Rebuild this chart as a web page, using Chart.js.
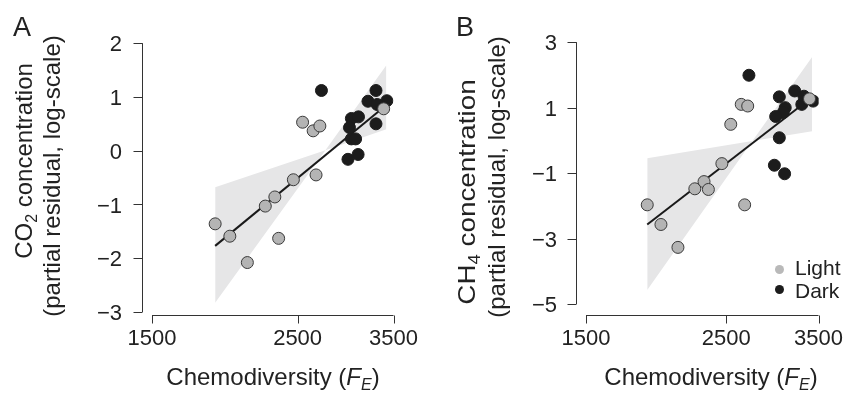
<!DOCTYPE html>
<html>
<head>
<meta charset="utf-8">
<script src="https://cdn.jsdelivr.net/npm/chart.js@4/dist/chart.umd.min.js"></script>
<style>
  body{ margin:0; background:#fff; }
  #wrap{ position:relative; width:865px; height:393px; overflow:hidden;
         font-family:"Liberation Sans", Arial, sans-serif; color:#222; }
  canvas{ position:absolute; top:0; }
  .t{ position:absolute; white-space:nowrap; font-size:24px; line-height:26px; }
  .rot{ transform:translate(-50%,-50%) rotate(-90deg); }
  .rotw{ transform:translate(-50%,-50%) rotate(-90deg) scaleX(1.16); }
  .xt{ transform:translateX(-50%); }
  .sub{ font-size:16px; position:relative; top:5px; }
  .letter{ position:absolute; font-size:27px; line-height:27px; }
  .dot{ position:absolute; width:9px; height:9px; border-radius:50%; }
  .leg{ position:absolute; font-size:21px; line-height:21px; }
</style>
</head>
<body>
<div id="wrap">
  <canvas id="chartA" width="432" height="393" style="left:0"></canvas>
  <canvas id="chartB" width="433" height="393" style="left:432px"></canvas>

  <div class="letter" style="left:13px;top:14px">A</div>
  <div class="letter" style="left:456px;top:14px">B</div>

  <div class="t rot" style="left:25px;top:161px">CO<span class="sub">2</span> concentration</div>
  <div class="t rot" style="left:52px;top:176px">(partial residual, log-scale)</div>
  <div class="t rotw" style="left:468px;top:192px">CH<span class="sub">4</span> concentration</div>
  <div class="t rot" style="left:497px;top:177px">(partial residual, log-scale)</div>

  <div class="t xt" style="left:273px;top:364px">Chemodiversity (<i>F<span class="sub">E</span></i>)</div>
  <div class="t xt" style="left:711px;top:364px">Chemodiversity (<i>F<span class="sub">E</span></i>)</div>

  <div class="dot" style="left:775px;top:265px;background:#b9b9b9"></div>
  <div class="leg" style="left:795px;top:257px">Light</div>
  <div class="dot" style="left:775px;top:285px;background:#1c1c1c"></div>
  <div class="leg" style="left:795px;top:280px">Dark</div>
</div>

<script>
// x 轴刻度（对数坐标）
const xTicks = [1500, 2500, 3500];

// A: CO2
const yTicksA = [2, 1, 0, -1, -2, -3];
const lightAX = [1872, 1971, 2096, 2232, 2308, 2339, 2463, 2544, 2640, 2703, 2667, 3381];
const lightAY = [-1.36, -1.59, -2.08, -1.03, -0.86, -1.63, -0.54, 0.53, 0.37, 0.46, -0.45, 0.78];
const darkAX = [2718, 3291, 3200, 3419, 3305, 3019, 3095, 2999, 3291, 3019, 3064, 2983, 3091];
const darkAY = [1.12, 1.12, 0.92, 0.93, 0.86, 0.60, 0.63, 0.43, 0.50, 0.22, 0.22, -0.16, -0.07];
const fitAX = [1872, 3381];
const fitAY = [-1.77, 0.81];
const bandAX = [1872, 2756, 3413];
const bandAHi = [-0.68, 0.01, 1.59];
const bandALo = [-2.83, 0.01, 0.40];

// B: CH4
const yTicksB = [3, 1, -1, -3, -5];
const lightBX = [1875, 1971, 2097, 2230, 2306, 2343, 2461, 2542, 2641, 2704, 2674, 3387];
const lightBY = [-1.97, -2.57, -3.27, -1.48, -1.26, -1.50, -0.71, 0.49, 1.10, 1.05, -1.97, 1.27];
const darkBX = [2716, 3209, 3034, 3319, 3432, 3293, 3100, 3078, 2994, 3034, 2980, 3093];
const darkBY = [1.99, 1.51, 1.33, 1.35, 1.20, 1.10, 1.00, 0.85, 0.73, 0.08, -0.76, -1.02];
const fitBX = [1875, 3380];
const fitBY = [-2.57, 1.25];
const bandBX = [1875, 2750, 3419];
const bandBHi = [-0.55, -0.02, 2.55];
const bandBLo = [-4.57, -0.02, 0.28];

function pts(xs, ys){
    return xs.map((x, i) => ({x: x, y: ys[i]}));
}

function fmt(v){
    return v < 0 ? "\u2212" + Math.abs(v) : String(v);
}

// R 风格的分离坐标轴：轴线与绘图区留一点空隙
const detachedAxes = {
    id: "detachedAxes",
    afterDraw(chart, args, opts){
        const ctx = chart.ctx;
        const area = chart.chartArea;
        const xs = chart.scales.x;
        const ys = chart.scales.y;

        ctx.save();
        ctx.strokeStyle = "#333";
        ctx.lineWidth = 1;
        ctx.beginPath();

        const ax = Math.round(area.left - opts.yGap) + 0.5;
        ctx.moveTo(ax, ys.getPixelForValue(ys.max));
        ctx.lineTo(ax, ys.getPixelForValue(ys.min));
        ys.ticks.forEach(t => {
            const py = Math.round(ys.getPixelForValue(t.value)) + 0.5;
            ctx.moveTo(ax, py);
            ctx.lineTo(ax - 9, py);
        });

        const ay = Math.round(area.bottom + opts.xGap) + 0.5;
        ctx.moveTo(xs.getPixelForValue(xs.min), ay);
        ctx.lineTo(xs.getPixelForValue(xs.max), ay);
        xs.ticks.forEach(t => {
            const px = Math.round(xs.getPixelForValue(t.value)) + 0.5;
            ctx.moveTo(px, ay);
            ctx.lineTo(px, ay + 8);
        });

        ctx.stroke();
        ctx.restore();
    }
};

function makeChart(id, d, g){

    const tickFont = {family: "Liberation Sans", size: 22, lineHeight: 1.2};

    return new Chart(document.getElementById(id), {
        type: "scatter",
        data: {
            datasets: [
                {
                    label: "Light",
                    data: pts(d.lightX, d.lightY),
                    backgroundColor: "#b4b4b4",
                    borderColor: "#3a3a3a",
                    borderWidth: 1,
                    pointRadius: 6,
                    order: 0
                },
                {
                    label: "Dark",
                    data: pts(d.darkX, d.darkY),
                    backgroundColor: "#1c1c1c",
                    borderColor: "#1c1c1c",
                    borderWidth: 1,
                    pointRadius: 6,
                    order: 1
                },
                {
                    type: "line",
                    label: "fit",
                    data: pts(d.fitX, d.fitY),
                    borderColor: "#1a1a1a",
                    borderWidth: 2,
                    pointRadius: 0,
                    fill: false,
                    order: 2
                },
                {
                    type: "line",
                    label: "ci-hi",
                    data: pts(d.bandX, d.bandHi),
                    borderColor: "rgba(0,0,0,0)",
                    borderWidth: 0,
                    pointRadius: 0,
                    backgroundColor: "#e6e6e7",
                    fill: "+1",
                    order: 3
                },
                {
                    type: "line",
                    label: "ci-lo",
                    data: pts(d.bandX, d.bandLo),
                    borderColor: "rgba(0,0,0,0)",
                    borderWidth: 0,
                    pointRadius: 0,
                    fill: false,
                    order: 4
                }
            ]
        },
        options: {
            responsive: false,
            animation: false,
            layout: {
                padding: {left: 0, right: g.padRight, top: g.padTop, bottom: 0}
            },
            plugins: {
                legend: {display: false},
                tooltip: {enabled: false},
                detachedAxes: {yGap: g.yGap, xGap: g.xGap}
            },
            scales: {
                x: {
                    type: "logarithmic",
                    min: 1500,
                    max: 3500,
                    afterBuildTicks: s => { s.ticks = xTicks.map(v => ({value: v})); },
                    afterFit: s => { s.height = g.xHeight; },
                    grid: {display: false, drawTicks: false},
                    border: {display: false},
                    ticks: {
                        color: "#222",
                        font: tickFont,
                        padding: g.xPad,
                        maxRotation: 0,
                        autoSkip: false,
                        callback: v => String(v)
                    }
                },
                y: {
                    min: d.yMin,
                    max: d.yMax,
                    afterBuildTicks: s => { s.ticks = d.yTicks.map(v => ({value: v})); },
                    afterFit: s => { s.width = g.yWidth; },
                    grid: {display: false, drawTicks: false},
                    border: {display: false},
                    ticks: {
                        color: "#222",
                        font: tickFont,
                        padding: g.yPad,
                        labelOffset: 2,
                        callback: v => fmt(v)
                    }
                }
            }
        },
        plugins: [detachedAxes]
    });
}

makeChart("chartA", {
    lightX: lightAX, lightY: lightAY, darkX: darkAX, darkY: darkAY,
    fitX: fitAX, fitY: fitAY, bandX: bandAX, bandHi: bandAHi, bandLo: bandALo,
    yTicks: yTicksA, yMin: -3, yMax: 2
}, {padTop: 42, padRight: 28, yWidth: 152, xHeight: 81, yGap: 10, xGap: 3, xPad: 14, yPad: 30});

makeChart("chartB", {
    lightX: lightBX, lightY: lightBY, darkX: darkBX, darkY: darkBY,
    fitX: fitBX, fitY: fitBY, bandX: bandBX, bandHi: bandBHi, bandLo: bandBLo,
    yTicks: yTicksB, yMin: -5, yMax: 3
}, {padTop: 34, padRight: 27, yWidth: 154, xHeight: 89, yGap: 10, xGap: 11, xPad: 22, yPad: 29});
</script>
</body>
</html>
